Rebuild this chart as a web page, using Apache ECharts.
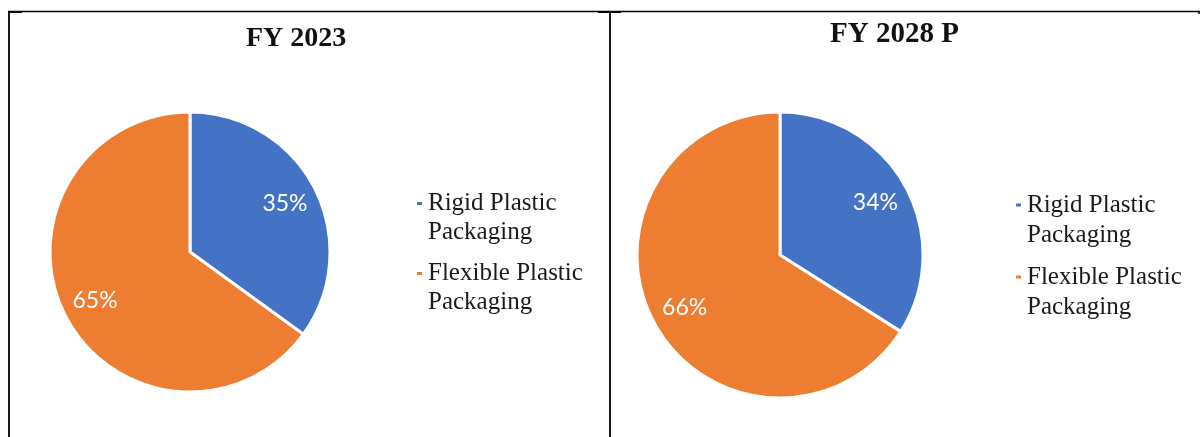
<!DOCTYPE html>
<html>
<head>
<meta charset="utf-8">
<script src="https://cdn.jsdelivr.net/npm/echarts@6/dist/echarts.min.js"></script>
<style>
  html, body { margin: 0; padding: 0; background: #ffffff; }
  #chart { width: 1200px; height: 437px; }
</style>
</head>
<body>
<div id="chart"></div>
<script>
// ---- data ----
const categories = ['Rigid Plastic Packaging', 'Flexible Plastic Packaging'];
const legendLabels = ['Rigid Plastic\nPackaging', 'Flexible Plastic\nPackaging'];
const titles = ['FY 2023', 'FY 2028 P'];
const shareFY2023 = [35, 65];
const shareFY2028 = [34, 66];
const colors = ['#4472C4', '#ED7D31'];

// ---- build ----
function toData(values) {
  return categories.map((c, i) => ({ name: c, value: values[i] }));
}
const labelMap = {};
// leading blank line so the marker sits beside the first text line
categories.forEach((c, i) => { labelMap[c] = '\n' + legendLabels[i]; });

function pieSeries(values, center, r) {
  return {
    type: 'pie',
    center: center,
    radius: [0, r],
    startAngle: 90,
    clockwise: true,
    silent: true,
    animation: false,
    label: { show: false },
    labelLine: { show: false },
    itemStyle: { borderColor: '#ffffff', borderWidth: 3 },
    emphasis: { disabled: true },
    data: toData(values)
  };
}
function labelSeries(values, center, r) {
  return {
    type: 'pie',
    center: center,
    radius: [r * 0.48, r],
    startAngle: 90,
    clockwise: true,
    silent: true,
    animation: false,
    legendHoverLink: false,
    itemStyle: { color: 'rgba(0,0,0,0)', borderWidth: 0 },
    label: {
      show: true,
      position: 'inside',
      formatter: '{c}%',
      color: '#ffffff',
      fontFamily: 'Lato',
      fontSize: 23
    },
    labelLine: { show: false },
    emphasis: { disabled: true },
    data: toData(values)
  };
}

const chart = echarts.init(document.getElementById('chart'), null, { renderer: 'canvas' });
const legendBase = {
  orient: 'vertical',
  icon: 'rect',
  itemWidth: 7,
  itemHeight: 5,
  padding: 0,
  selectedMode: false,
  formatter: (name) => labelMap[name],
  data: categories
};
chart.setOption({
  backgroundColor: '#ffffff',
  color: colors,
  title: [
    { text: titles[0], left: 241, top: 20,
      textStyle: { fontFamily: 'Liberation Serif', fontWeight: 'bold', fontSize: 28, color: '#111111' } },
    { text: titles[1], left: 825, top: 15,
      textStyle: { fontFamily: 'Liberation Serif', fontWeight: 'bold', fontSize: 29, color: '#111111' } }
  ],
  legend: [
    Object.assign({}, legendBase, {
      left: 415, top: 160, itemGap: -17,
      textStyle: { fontFamily: 'Liberation Serif', fontSize: 25, lineHeight: 29, color: '#1a1a1a' }
    }),
    Object.assign({}, legendBase, {
      left: 1014, top: 160, itemGap: -18,
      textStyle: { fontFamily: 'Liberation Serif', fontSize: 25, lineHeight: 30, color: '#1a1a1a' }
    })
  ],
  series: [
    pieSeries(shareFY2023, [190, 252], 140),
    pieSeries(shareFY2028, [780, 255], 143),
    labelSeries(shareFY2023, [190, 252], 140),
    labelSeries(shareFY2028, [780, 255], 143)
  ],
  graphic: [
    { type: 'line', shape: { x1: 8, y1: 11.5, x2: 1200, y2: 11.5 }, style: { stroke: '#000', lineWidth: 1.5 }, silent: true },
    { type: 'line', shape: { x1: 8, y1: 12, x2: 22, y2: 12 }, style: { stroke: '#000', lineWidth: 2 }, silent: true },
    { type: 'line', shape: { x1: 598, y1: 12, x2: 621, y2: 12 }, style: { stroke: '#000', lineWidth: 2 }, silent: true },
    { type: 'line', shape: { x1: 9, y1: 11, x2: 9, y2: 437 }, style: { stroke: '#000', lineWidth: 1.8 }, silent: true },
    { type: 'line', shape: { x1: 610, y1: 11, x2: 610, y2: 437 }, style: { stroke: '#000', lineWidth: 1.8 }, silent: true },
    { type: 'line', shape: { x1: 1199, y1: 11, x2: 1199, y2: 14 }, style: { stroke: '#000', lineWidth: 1.5 }, silent: true }
  ]
});
</script>
</body>
</html>
